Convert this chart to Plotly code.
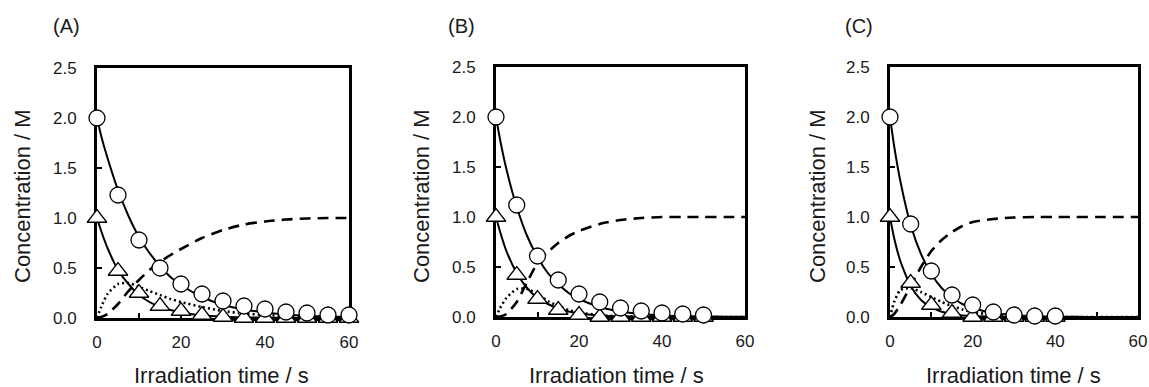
import plotly.graph_objects as go

# ---------------- data ----------------
panel_labels = ["(A)", "(B)", "(C)"]

# measured points
t_A = [0, 5, 10, 15, 20, 25, 30, 35, 40, 45, 50, 55, 60]
circ_A = [2.0, 1.23, 0.78, 0.50, 0.34, 0.24, 0.17, 0.12, 0.09, 0.06, 0.05, 0.03, 0.03]
tri_A = [1.0, 0.47, 0.25, 0.12, 0.07, 0.03, 0.01, 0.0, 0.0, 0.0, 0.0, 0.0, 0.0]

t_B = [0, 5, 10, 15, 20, 25, 30, 35, 40, 45, 50]
circ_B = [2.0, 1.12, 0.61, 0.37, 0.23, 0.15, 0.09, 0.06, 0.04, 0.03, 0.02]
tri_B = [1.0, 0.42, 0.18, 0.07, 0.02, 0.0, 0.0, 0.0, 0.0, 0.0, 0.0]

t_C = [0, 5, 10, 15, 20, 25, 30, 35, 40]
circ_C = [2.0, 0.93, 0.46, 0.22, 0.12, 0.05, 0.02, 0.01, 0.01]
tri_C = [1.0, 0.34, 0.12, 0.04, 0.0, 0.0, 0.0, 0.0, 0.0]

# model curves
t_line = [0, 1, 2.5, 5, 7.5, 10, 12.5, 15, 17.5, 20, 25, 30, 35, 40, 45, 50, 55, 60]

fitA_circ = [2.0, 1.82, 1.60, 1.28, 1.02, 0.81, 0.65, 0.52, 0.41, 0.33, 0.21, 0.13, 0.085, 0.055, 0.035, 0.022, 0.014, 0.009]
fitA_tri = [1.0, 0.87, 0.70, 0.48, 0.34, 0.23, 0.16, 0.11, 0.08, 0.055, 0.027, 0.013, 0.006, 0.003, 0.0, 0.0, 0.0, 0.0]
dotA = [0.0, 0.11, 0.24, 0.34, 0.35, 0.31, 0.27, 0.23, 0.19, 0.16, 0.11, 0.07, 0.045, 0.03, 0.02, 0.012, 0.008, 0.005]
dashA = [0.0, 0.01, 0.04, 0.14, 0.27, 0.38, 0.48, 0.56, 0.63, 0.69, 0.80, 0.88, 0.935, 0.965, 0.985, 0.995, 1.0, 1.0]

fitB_circ = [2.0, 1.77, 1.48, 1.10, 0.81, 0.60, 0.44, 0.33, 0.24, 0.18, 0.10, 0.055, 0.03, 0.016, 0.009, 0.005, 0.003, 0.002]
fitB_tri = [1.0, 0.85, 0.66, 0.44, 0.29, 0.19, 0.13, 0.084, 0.056, 0.037, 0.016, 0.007, 0.003, 0.001, 0.0, 0.0, 0.0, 0.0]
dotB = [0.0, 0.09, 0.19, 0.28, 0.28, 0.23, 0.16, 0.11, 0.07, 0.045, 0.018, 0.007, 0.003, 0.0, 0.0, 0.0, 0.0, 0.0]
dashB = [0.0, 0.005, 0.03, 0.15, 0.35, 0.54, 0.65, 0.74, 0.81, 0.86, 0.93, 0.97, 0.99, 1.0, 1.0, 1.0, 1.0, 1.0]

fitC_circ = [2.0, 1.71, 1.36, 0.92, 0.63, 0.43, 0.29, 0.20, 0.13, 0.09, 0.04, 0.019, 0.009, 0.004, 0.002, 0.0, 0.0, 0.0]
fitC_tri = [1.0, 0.79, 0.56, 0.31, 0.17, 0.095, 0.053, 0.03, 0.016, 0.009, 0.003, 0.001, 0.0, 0.0, 0.0, 0.0, 0.0, 0.0]
dotC = [0.0, 0.15, 0.27, 0.29, 0.25, 0.20, 0.15, 0.11, 0.075, 0.05, 0.02, 0.008, 0.003, 0.0, 0.0, 0.0, 0.0, 0.0]
dashC = [0.0, 0.03, 0.12, 0.31, 0.50, 0.66, 0.77, 0.85, 0.91, 0.95, 0.98, 0.995, 1.0, 1.0, 1.0, 1.0, 1.0, 1.0]

x_ticks = [0, 10, 20, 30, 40, 50, 60]
x_ticktext = ["0", "", "20", "", "40", "", "60"]
y_ticks = [0.0, 0.5, 1.0, 1.5, 2.0, 2.5]
y_ticktext = ["0.0", "0.5", "1.0", "1.5", "2.0", "2.5"]

x_title = "Irradiation time / s"
y_title = "Concentration / M"

# ---------------- layout geometry ----------------
W, H = 1149, 387
panels = [
    dict(l=97, r=349, t=68, b=318, pts=(t_A, circ_A, tri_A), lines=(fitA_circ, fitA_tri, dotA, dashA)),
    dict(l=496, r=745, t=67, b=317, pts=(t_B, circ_B, tri_B), lines=(fitB_circ, fitB_tri, dotB, dashB)),
    dict(l=890, r=1138, t=67, b=317, pts=(t_C, circ_C, tri_C), lines=(fitC_circ, fitC_tri, dotC, dashC)),
]
ytitle_x = [22, 421, 817]
xtitle_x = [221, 616, 1013]
label_x = [66, 461, 859]

FONT = "Liberation Sans, Arial, sans-serif"
fig = go.Figure()
annotations = []

for i, p in enumerate(panels):
    sfx = "" if i == 0 else str(i + 1)
    xa, ya = "x" + sfx, "y" + sfx
    tp, circ, tri = p["pts"]
    fc, ft, dt, ds = p["lines"]
    common = dict(xaxis=xa, yaxis=ya, showlegend=False, hoverinfo="skip")
    fig.add_trace(go.Scatter(x=t_line, y=ds, mode="lines", line=dict(color="black", width=2.6, dash="11px,7px", shape="spline", smoothing=0.6), cliponaxis=False, **common))
    fig.add_trace(go.Scatter(x=t_line, y=dt, mode="lines", line=dict(color="black", width=2.6, dash="2px,3px", shape="spline", smoothing=0.6), cliponaxis=False, **common))
    fig.add_trace(go.Scatter(x=t_line, y=ft, mode="lines", line=dict(color="black", width=2, shape="spline", smoothing=0.6), cliponaxis=False, **common))
    fig.add_trace(go.Scatter(x=t_line, y=fc, mode="lines", line=dict(color="black", width=2, shape="spline", smoothing=0.6), cliponaxis=False, **common))
    fig.add_trace(go.Scatter(x=tp, y=tri, mode="markers", marker=dict(symbol="triangle-up", size=17, color="white", line=dict(color="black", width=1.3)), cliponaxis=False, **common))
    fig.add_trace(go.Scatter(x=tp, y=circ, mode="markers", marker=dict(symbol="circle", size=16, color="white", line=dict(color="black", width=1.3)), cliponaxis=False, **common))

    axis_common = dict(showline=True, linecolor="black", linewidth=3, mirror=True,
                       ticks="inside", ticklen=5, tickwidth=2, tickcolor="black",
                       showgrid=False, zeroline=False, layer="below traces", automargin=False,
                       tickfont=dict(family=FONT, size=17, color="#1a1a1a"))
    fig.update_layout(**{
        ("xaxis" + sfx): dict(domain=[p["l"] / W, p["r"] / W], range=[0, 60], anchor=ya,
                              tickmode="array", tickvals=x_ticks, ticktext=x_ticktext,
                              ticklabelstandoff=7, **axis_common),
        ("yaxis" + sfx): dict(domain=[1 - p["b"] / H, 1 - p["t"] / H], range=[0, 2.5], anchor=xa,
                              tickmode="array", tickvals=y_ticks, ticktext=y_ticktext,
                              ticklabelstandoff=14, **axis_common),
    })
    annotations.append(dict(x=ytitle_x[i] / W, y=1 - 196 / H, xref="paper", yref="paper", text=y_title,
                            textangle=-90, showarrow=False, xanchor="center", yanchor="middle",
                            font=dict(family=FONT, size=22, color="#1a1a1a")))
    annotations.append(dict(x=xtitle_x[i] / W, y=1 - 375 / H, xref="paper", yref="paper", text=x_title,
                            showarrow=False, xanchor="center", yanchor="middle",
                            font=dict(family=FONT, size=22, color="#1a1a1a")))
    annotations.append(dict(x=label_x[i] / W, y=1 - 26 / H, xref="paper", yref="paper", text=panel_labels[i],
                            showarrow=False, xanchor="center", yanchor="middle",
                            font=dict(family=FONT, size=20, color="#1a1a1a")))

fig.update_layout(width=W, height=H, margin=dict(l=0, r=0, t=0, b=0, autoexpand=False),
                  paper_bgcolor="white", plot_bgcolor="white", annotations=annotations)

fig.write_html("out.html", config={"displayModeBar": False},
               post_script="document.body.style.margin='0';document.body.style.overflow='hidden';")
